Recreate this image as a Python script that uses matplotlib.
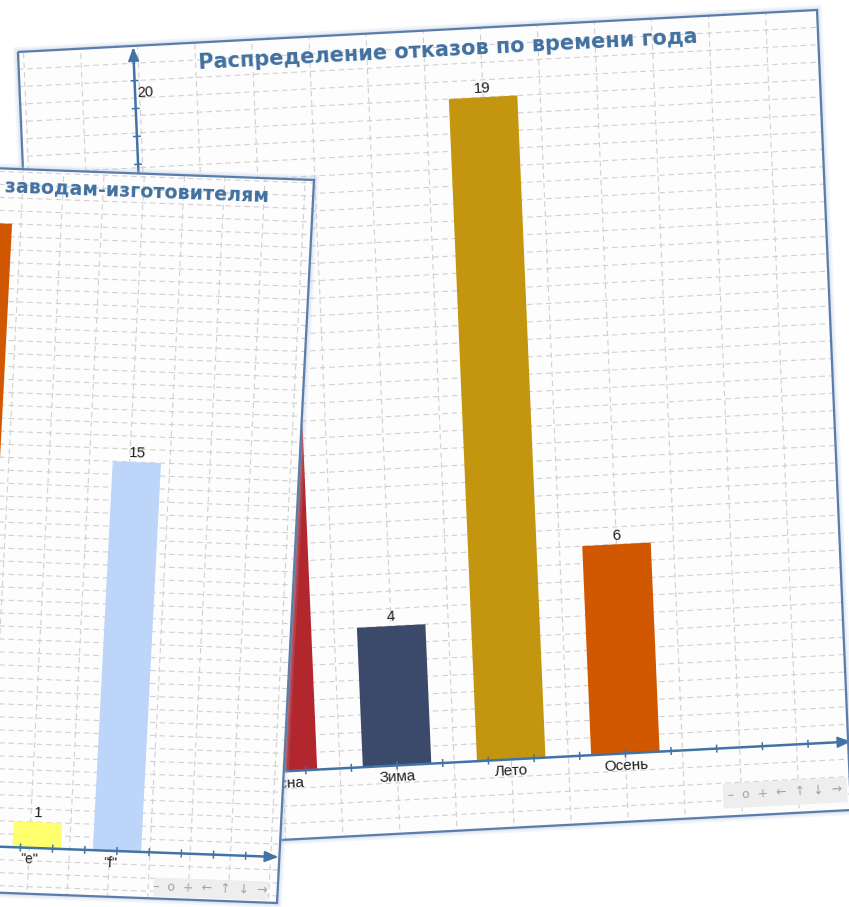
import numpy as np
import matplotlib.pyplot as plt
from matplotlib.transforms import Affine2D
from matplotlib.patches import Polygon
from matplotlib.collections import LineCollection

# задний график: отказы по времени года
season_labels = ['Весна', 'Зима', 'Лето', 'Осень']
season_values = [12, 4, 19, 6]
season_colors = ['#B1272D', '#3B4A6B', '#C4950F', '#D15800']

# передний график: отказы по заводам (видны только "d", "e", "f")
plant_labels = ['"d"', '"e"', '"f"']
plant_values = [24, 1, 15]
plant_colors = ['#D15800', '#FFFF6E', '#BDD5F8']
plant_first = 3

W, H = 849, 907
fig = plt.figure(figsize=(W / 100, H / 100), dpi=100)
ax = fig.add_axes([0, 0, 1, 1])
ax.set_xlim(0, W)
ax.set_ylim(H, 0)
ax.axis('off')

BORDER = '#5A7DAA'
AXIS = '#4273A6'
TITLE = '#41709F'
GRID = '#D0D0D0'
TEXT = '#1E1E1E'


def panel_affine(tl, tr, bl, w, h):
    m = np.array([[(tr[0] - tl[0]) / w, (bl[0] - tl[0]) / h, tl[0]],
                  [(tr[1] - tl[1]) / w, (bl[1] - tl[1]) / h, tl[1]],
                  [0.0, 0.0, 1.0]])
    return Affine2D(m)


def rect(x, y, w, h):
    return [(x, y), (x + w, y), (x + w, y + h), (x, y + h)]


def draw_panel(p, labels, values, colors, first, z):
    local = panel_affine(p['tl'], p['tr'], p['bl'], p['w'], p['h']) + ax.transData
    data = Affine2D().scale(p['dx'], -p['dy']).translate(p['x0'], p['y0'])
    chart = data + local
    w, h = p['w'], p['h']

    # тень и фон панели
    for pad, a in [(5, 0.15), (3, 0.22), (1.5, 0.3)]:
        ax.add_patch(Polygon(rect(-pad, -pad, w + 2 * pad, h + 2 * pad),
                             transform=local, facecolor='#AFC3DD', alpha=a,
                             edgecolor='none', zorder=z))
    bg = Polygon(rect(0, 0, w, h), transform=local, facecolor='#FDFDFE',
                 edgecolor='none', zorder=z + 1)
    ax.add_patch(bg)

    # пунктирная сетка
    gx = np.arange(-4, 9.01, 0.5) + p['grid_shift']
    gy = np.arange(-4, 30.01, 0.5)
    vl = ax.vlines(gx, gy[0], gy[-1], colors=GRID, linewidth=0.8,
                   linestyles=(0, (5, 3.5)), transform=chart, zorder=z + 2)
    hl = ax.hlines(gy, gx[0], gx[-1], colors=GRID, linewidth=0.8,
                   linestyles=(0, (5, 3.5)), transform=chart, zorder=z + 2)
    vl.set_clip_path(bg)
    hl.set_clip_path(bg)

    # столбцы
    idx = np.arange(len(values)) + first
    ax.bar(idx, values, width=0.6, color=colors, transform=chart,
           zorder=z + 3, linewidth=0)

    # оси со стрелками
    xo = p['origin']
    ax.plot([xo, p['xmax']], [0, 0], color=AXIS, lw=1.8, transform=chart,
            zorder=z + 4, solid_capstyle='butt')
    ax.plot([xo, xo], [0, p['ymax']], color=AXIS, lw=1.8, transform=chart,
            zorder=z + 4, solid_capstyle='butt')
    xt = data.transform((p['xmax'], 0))
    yt = data.transform((xo, p['ymax']))
    ax.add_patch(Polygon([xt, xt + (-12, -5), xt + (-12, 5)], closed=True,
                         transform=local, color=AXIS, zorder=z + 4))
    ax.add_patch(Polygon([yt, yt + (-5, 12), yt + (5, 12)], closed=True,
                         transform=local, color=AXIS, zorder=z + 4))

    segs = []
    for t in p['xticks']:
        u, v = data.transform((t, 0))
        segs.append([(u, v - 4), (u, v + 4)])
    for t in p['yticks']:
        u, v = data.transform((xo, t))
        segs.append([(u - 4, v), (u + 4, v)])
    ax.add_collection(LineCollection(segs, colors=AXIS, linewidths=1.1,
                                     transform=local, zorder=z + 4))

    txt = dict(transform=local, transform_rotates_text=True,
               rotation_mode='anchor', zorder=z + 5)
    for t in p['ylabels']:
        u, v = data.transform((xo, t))
        ax.text(u + 2, v + 5, f'{t:.0f}', ha='left', va='top',
                fontsize=10.5, color=TEXT, family='Liberation Sans', **txt)

    # подписи категорий и значений
    for i, lab, val in zip(idx, labels, values):
        u, v = data.transform((i + p['label_shift'], 0))
        ax.text(u, v + 5, lab, ha='center', va='top', fontsize=p['label_fs'],
                color=TEXT, family='Liberation Sans', **txt)
        u, v = data.transform((i, val))
        ax.text(u, v - 2, str(val), ha='center', va='bottom', fontsize=11,
                color=TEXT, family='Liberation Sans', **txt)

    # заголовок
    ax.text(*p['title_xy'], p['title'], ha=p['title_ha'], va='center',
            fontsize=p['title_fs'], fontweight='bold', color=TITLE,
            family='DejaVu Sans', **txt)

    # панель навигации
    bx, by, bw, bh = p['toolbar']
    ax.add_patch(Polygon(rect(bx, by, bw, bh), transform=local,
                         facecolor='#EEEEEE', edgecolor='none', zorder=z + 4))
    ax.text(bx + bw / 2, by + bh / 2, '–  o  +  ←  ↑  ↓  →', ha='center',
            va='center', fontsize=9, color='#A3A3A3', family='DejaVu Sans',
            **txt)

    ax.add_patch(Polygon(rect(0, 0, w, h), transform=local, facecolor='none',
                         edgecolor=BORDER, linewidth=1.6, zorder=z + 6))


back = dict(
    tl=(18, 52), tr=(817, 10), bl=(52, 852), w=800, h=800,
    x0=234.1, dx=114.3, y0=731.7, dy=34.85,
    origin=-1.04, xmax=4.96, ymax=20.9,
    xticks=np.round(np.arange(-1.0, 4.61, 0.4), 2),
    yticks=np.round(np.arange(0.8, 20.01, 0.8), 2),
    ylabels=[4, 8, 12, 16, 20],
    grid_shift=0.0, label_shift=0.0, label_fs=11,
    title='Распределение отказов по времени года',
    title_xy=(430, 20), title_ha='center', title_fs=15,
    toolbar=(673, 767, 124, 25),
)

front = dict(
    tl=(-485.4, 150.4), tr=(314, 180), bl=(-522.4, 873.4), w=800, h=724,
    x0=235.0, dx=80.5, y0=678.0, dy=25.96,
    origin=-1.04, xmax=6.98, ymax=26.0,
    xticks=np.round(np.arange(-1.0, 6.61, 0.4), 2),
    yticks=np.round(np.arange(0.8, 25.61, 0.8), 2),
    ylabels=[],
    grid_shift=-0.09, label_shift=-0.08, label_fs=10,
    title='Распределение отказов по заводам-изготовителям',
    title_xy=(756, 18), title_ha='right', title_fs=13.7,
    toolbar=(676, 703, 114, 19),
)

draw_panel(back, season_labels, season_values, season_colors, 0, 1)
draw_panel(front, plant_labels, plant_values, plant_colors, plant_first, 20)

fig.savefig('out.png', dpi=100, facecolor='white')
